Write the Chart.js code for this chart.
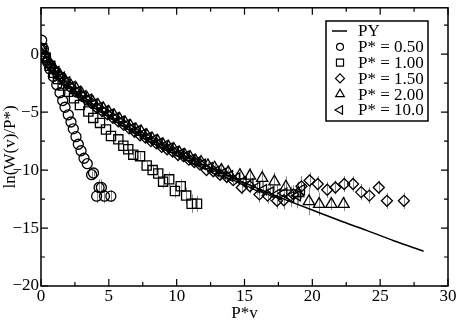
<!DOCTYPE html>
<html>
<head>
<meta charset="utf-8">
<script src="https://cdn.jsdelivr.net/npm/chart.js@4.4.1/dist/chart.umd.min.js"></script>
<style>
  html, body { margin: 0; padding: 0; background: #fff; }
</style>
</head>
<body>
<canvas id="grafico" width="459" height="327"></canvas>
<script>
// curva teorica PY
const pyX = [0, 0.25, 0.5, 0.75, 1, 1.5, 2, 2.5, 3, 3.5, 4, 5, 6, 7, 8, 9, 10, 11, 12, 13, 14, 15, 16, 17, 18, 19, 20, 21, 22, 24, 26, 28.2];
const pyY = [0.7, 0.05, -0.55, -0.95, -1.3, -2.0, -2.6, -3.1, -3.55, -4.0, -4.45, -5.25, -5.95, -6.65, -7.3, -7.9, -8.45, -9.0, -9.55, -10.05, -10.6, -11.1, -11.6, -12.05, -12.55, -13.0, -13.45, -13.9, -14.35, -15.2, -16.1, -17.0];

// P* = 0.50 (circulos)
const c050X = [0.05, 0.18, 0.32, 0.48, 0.66, 0.91, 1.16, 1.40, 1.60, 1.77, 2.01, 2.21, 2.38, 2.58, 2.75, 2.95, 3.17, 3.41, 3.73, 3.87, 4.28, 4.45, 4.1, 4.68, 5.15];
const c050Y = [1.2, 0.45, -0.15, -0.7, -1.27, -1.92, -2.63, -3.33, -4.0, -4.58, -5.23, -5.85, -6.44, -7.12, -7.77, -8.33, -8.98, -9.45, -10.4, -10.25, -11.5, -11.5, -12.25, -12.25, -12.25];
const c050E = [0, 0, 0, 0, 0, 0, 0, 0, 0, 0, 0, 0, 0, 0, 0, 0, 0, 0, 0.3, 0.3, 0.7, 0.7, 0.6, 0.6, 0.5];

// P* = 1.00 (cuadrados)
const s100X = [0.08, 0.35, 0.65, 0.95, 1.25, 1.6, 2.0, 2.43, 2.87, 3.49, 3.85, 4.35, 4.79, 5.16, 5.7, 6.07, 6.43, 6.8, 7.3, 7.79, 8.23, 8.64, 9.0, 9.45, 9.87, 10.3, 10.7, 11.1, 11.5];
const s100Y = [0.5, -0.3, -1.0, -1.6, -2.15, -2.7, -3.25, -3.8, -4.38, -4.94, -5.5, -5.93, -6.5, -7.06, -7.35, -7.9, -8.2, -8.67, -8.8, -9.6, -10.0, -10.3, -11.0, -10.8, -11.8, -11.4, -12.2, -12.9, -12.9];
const s100E = [0, 0, 0, 0, 0, 0, 0, 0, 0, 0, 0, 0, 0, 0, 0, 0, 0, 0.3, 0.3, 0.4, 0.4, 0.5, 0.6, 0.6, 0.6, 0.6, 0.7, 0.8, 0.7];

// P* = 1.50 (rombos)
const d150X = [0.05, 0.3, 0.6, 0.9, 1.3, 1.7, 2.1, 2.5, 2.9, 3.3, 3.7, 4.1, 4.5, 4.9, 5.3, 5.7, 6.1, 6.5, 6.9, 7.3, 7.7, 8.1, 8.5, 8.9, 9.3, 9.7, 10.1, 10.5, 10.9, 11.3, 11.7, 12.2, 12.7, 13.2, 13.7, 14.17, 14.8, 15.4, 16.1, 16.7, 17.4, 17.9, 18.6, 19.2, 19.8, 20.4, 21.1, 21.7, 22.35, 23.0, 23.6, 24.2, 24.9, 25.5, 26.75];
const d150Y = [0.5, -0.2, -0.8, -1.3, -1.8, -2.3, -2.8, -3.2, -3.5, -3.9, -4.2, -4.6, -4.9, -5.2, -5.5, -5.8, -6.1, -6.4, -6.7, -7.0, -7.2, -7.5, -7.7, -8.0, -8.2, -8.4, -8.7, -8.8, -9.1, -9.3, -9.5, -10.0, -10.1, -10.4, -10.6, -10.87, -11.5, -11.4, -12.1, -12.2, -12.65, -12.6, -12.1, -11.4, -10.9, -11.2, -11.7, -11.5, -11.2, -11.2, -11.9, -12.2, -11.5, -12.65, -12.65];
const d150E = [0, 0, 0, 0, 0, 0, 0, 0, 0, 0, 0, 0, 0, 0, 0, 0, 0, 0, 0, 0, 0, 0, 0, 0, 0, 0, 0, 0, 0, 0, 0.2, 0.3, 0.3, 0.4, 0.4, 0.5, 0.6, 0.6, 0.7, 0.7, 0.7, 0.8, 0.8, 0.9, 0.7, 0.7, 0.7, 0.6, 0.7, 0.7, 0.7, 0.7, 0.6, 0.7, 0.7];

// P* = 2.00 (triangulos)
const t200X = [0.1, 0.4, 0.7, 1.0, 1.4, 1.8, 2.2, 2.6, 3.0, 3.4, 3.8, 4.2, 4.6, 5.0, 5.4, 5.8, 6.2, 6.6, 7.0, 7.4, 7.8, 8.2, 8.6, 9.0, 9.4, 9.8, 10.2, 10.6, 11.0, 11.4, 11.8, 12.3, 12.8, 13.3, 13.8, 14.66, 15.4, 16.3, 17.2, 18.05, 18.96, 19.75, 20.5, 21.4, 22.3];
const t200Y = [0.3, -0.4, -0.9, -1.3, -1.8, -2.3, -2.7, -3.0, -3.4, -3.8, -4.1, -4.4, -4.7, -5.0, -5.3, -5.6, -5.9, -6.2, -6.5, -6.7, -7.0, -7.3, -7.5, -7.8, -8.0, -8.2, -8.5, -8.7, -8.9, -9.2, -9.3, -9.6, -9.8, -10.0, -10.2, -10.45, -10.5, -10.7, -11.0, -11.44, -12.0, -12.7, -12.94, -12.94, -12.94];
const t200E = [0, 0, 0, 0, 0, 0, 0, 0, 0, 0, 0, 0, 0, 0, 0, 0, 0, 0, 0, 0, 0, 0, 0, 0, 0, 0, 0, 0, 0, 0, 0.3, 0.3, 0.4, 0.5, 0.5, 0.6, 0.7, 0.8, 0.8, 0.9, 1.0, 1.2, 1.0, 0.5, 0.6];

// P* = 10.0 (triangulos a la izquierda)
const t10X = [0.15, 0.45, 0.8, 1.1, 1.5, 1.9, 2.3, 2.7, 3.1, 3.5, 3.9, 4.3, 4.7, 5.1, 5.5, 5.9, 6.3, 6.7, 7.1, 7.5, 7.9, 8.3, 8.7, 9.1, 9.5, 9.9, 10.3, 10.7, 11.1, 11.5, 11.9, 12.4, 12.9, 13.4, 13.9, 14.4, 14.9, 15.4, 15.9, 16.4, 16.9, 17.4, 17.9, 18.4, 18.9, 19.2];
const t10Y = [0.1, -0.5, -1.1, -1.5, -2.0, -2.4, -2.8, -3.2, -3.6, -3.9, -4.3, -4.6, -4.9, -5.2, -5.5, -5.8, -6.1, -6.4, -6.6, -6.9, -7.2, -7.4, -7.7, -7.9, -8.1, -8.4, -8.6, -8.8, -9.1, -9.3, -9.5, -9.8, -10.1, -10.3, -10.5, -10.7, -11.0, -11.2, -11.5, -11.7, -11.9, -12.1, -12.0, -12.3, -12.2, -11.7];
const t10E = [0, 0, 0, 0, 0, 0, 0, 0, 0, 0, 0, 0, 0, 0, 0, 0, 0, 0, 0, 0, 0, 0, 0, 0, 0, 0, 0, 0, 0, 0, 0, 0.3, 0.3, 0.4, 0.4, 0.5, 0.5, 0.6, 0.6, 0.7, 0.8, 0.8, 1.0, 0.9, 1.1, 0.8];

// ejes
const xTicks = [0, 5, 10, 15, 20, 25, 30];
const yTicks = [-20, -15, -10, -5, 0];
const legendLabels = ['PY', 'P* = 0.50', 'P* = 1.00', 'P* = 1.50', 'P* = 2.00', 'P* = 10.0'];

const SERIF = '"Liberation Serif", "Times New Roman", serif';

function pts(xs, ys) {
    return xs.map((x, i) => ({ x: x, y: ys[i] }));
}

function serie(label, xs, ys, errs, style, radius, rotation) {
    return {
        label: label,
        data: pts(xs, ys),
        errs: errs,
        showLine: false,
        pointStyle: style,
        pointRotation: rotation || 0,
        pointRadius: radius,
        pointHoverRadius: radius,
        pointBorderWidth: 1.3,
        pointBorderColor: '#000',
        pointBackgroundColor: 'rgba(0,0,0,0)'
    };
}

const datasets = [
    {
        label: 'PY',
        data: pts(pyX, pyY),
        showLine: true,
        borderColor: '#000',
        borderWidth: 1.5,
        pointRadius: 0,
        cubicInterpolationMode: 'monotone'
    },
    serie('P* = 0.50', c050X, c050Y, c050E, 'circle', 5),
    serie('P* = 1.00', s100X, s100Y, s100E, 'rect', 6.5),
    serie('P* = 1.50', d150X, d150Y, d150E, 'rectRot', 5.5),
    serie('P* = 2.00', t200X, t200Y, t200E, 'triangle', 6.5),
    serie('P* = 10.0', t10X, t10Y, t10E, 'triangle', 6, -90)
];

// barras de error (gris), debajo de los simbolos
const errorBars = {
    id: 'errorBars',
    beforeDatasetsDraw(chart) {
        const ctx = chart.ctx;
        const y = chart.scales.y;
        ctx.save();
        ctx.strokeStyle = '#8a8a8a';
        ctx.lineWidth = 1;
        chart.data.datasets.forEach((ds, i) => {
            if (!ds.errs) return;
            const meta = chart.getDatasetMeta(i);
            meta.data.forEach((p, j) => {
                const e = ds.errs[j];
                if (!e) return;
                const v = ds.data[j].y;
                ctx.beginPath();
                ctx.moveTo(Math.round(p.x) + 0.5, y.getPixelForValue(v + e));
                ctx.lineTo(Math.round(p.x) + 0.5, y.getPixelForValue(v - e));
                ctx.stroke();
            });
        });
        ctx.restore();
    }
};

// marco, ticks hacia adentro, etiquetas y leyenda
const marco = {
    id: 'marco',
    afterDraw(chart) {
        const ctx = chart.ctx;
        const a = chart.chartArea;
        const sx = chart.scales.x;
        const sy = chart.scales.y;
        ctx.save();
        ctx.strokeStyle = '#000';
        ctx.lineWidth = 1.5;
        ctx.strokeRect(a.left, a.top, a.right - a.left, a.bottom - a.top);

        ctx.lineWidth = 1.2;
        ctx.beginPath();
        xTicks.forEach((t, i) => {
            const px = sx.getPixelForValue(t);
            ctx.moveTo(px, a.bottom); ctx.lineTo(px, a.bottom - 7);
            ctx.moveTo(px, a.top); ctx.lineTo(px, a.top + 7);
            if (i < xTicks.length - 1) {
                const pm = sx.getPixelForValue(t + 2.5);
                ctx.moveTo(pm, a.bottom); ctx.lineTo(pm, a.bottom - 4);
                ctx.moveTo(pm, a.top); ctx.lineTo(pm, a.top + 4);
            }
        });
        yTicks.forEach(t => {
            const py = sy.getPixelForValue(t);
            ctx.moveTo(a.left, py); ctx.lineTo(a.left + 7, py);
            ctx.moveTo(a.right, py); ctx.lineTo(a.right - 7, py);
            const pm = sy.getPixelForValue(t + 2.5);
            ctx.moveTo(a.left, pm); ctx.lineTo(a.left + 4, pm);
            ctx.moveTo(a.right, pm); ctx.lineTo(a.right - 4, pm);
        });
        ctx.stroke();

        ctx.fillStyle = '#000';
        ctx.font = '17px ' + SERIF;
        ctx.textAlign = 'center';
        ctx.textBaseline = 'middle';
        xTicks.forEach(t => {
            ctx.fillText(String(t), sx.getPixelForValue(t), a.bottom + 11);
        });
        ctx.textAlign = 'right';
        yTicks.forEach(t => {
            const s = t < 0 ? '\u2212' + Math.abs(t) : String(t);
            ctx.fillText(s, a.left - 2, sy.getPixelForValue(t));
        });

        // titulos
        ctx.textAlign = 'center';
        ctx.fillText('P*v', (a.left + a.right) / 2, 314);
        ctx.save();
        ctx.translate(11, (a.top + a.bottom) / 2);
        ctx.rotate(-Math.PI / 2);
        ctx.fillText('ln(W(v)/P*)', 0, 0);
        ctx.restore();

        // leyenda
        const bx = 326, by = 21, bw = 102, bh = 100;
        ctx.fillStyle = '#fff';
        ctx.fillRect(bx, by, bw, bh);
        ctx.lineWidth = 1.5;
        ctx.strokeRect(bx, by, bw, bh);
        const simbolos = [
            null,
            { pointStyle: 'circle', radius: 3.5, rotation: 0 },
            { pointStyle: 'rect', radius: 5, rotation: 0 },
            { pointStyle: 'rectRot', radius: 4.5, rotation: 0 },
            { pointStyle: 'triangle', radius: 5, rotation: 0 },
            { pointStyle: 'triangle', radius: 5, rotation: -90 }
        ];
        ctx.textAlign = 'left';
        legendLabels.forEach((lab, i) => {
            const cy = by + 10 + i * 15.8;
            ctx.strokeStyle = '#000';
            ctx.fillStyle = 'rgba(0,0,0,0)';
            if (i === 0) {
                ctx.lineWidth = 1.5;
                ctx.beginPath();
                ctx.moveTo(332, cy); ctx.lineTo(347, cy);
                ctx.stroke();
            } else {
                ctx.lineWidth = 1.2;
                const o = simbolos[i];
                Chart.helpers.drawPoint(ctx, { pointStyle: o.pointStyle, radius: o.radius, rotation: o.rotation, borderWidth: 1.2 }, 340, cy);
            }
            ctx.fillStyle = '#000';
            ctx.fillText(lab, 358, cy + 1);
        });
        ctx.restore();
    }
};

const ctx = document.getElementById('grafico').getContext('2d');
const grafico = new Chart(ctx, {
    type: 'scatter',
    data: { datasets: datasets },
    options: {
        responsive: false,
        animation: false,
        layout: { padding: { left: 41, top: 1, right: 11, bottom: 41 } },
        scales: {
            x: { type: 'linear', min: 0, max: 30, display: false },
            y: { type: 'linear', min: -20, max: 4, display: false }
        },
        plugins: {
            legend: { display: false },
            tooltip: { enabled: false }
        }
    },
    plugins: [errorBars, marco]
});
</script>
</body>
</html>
